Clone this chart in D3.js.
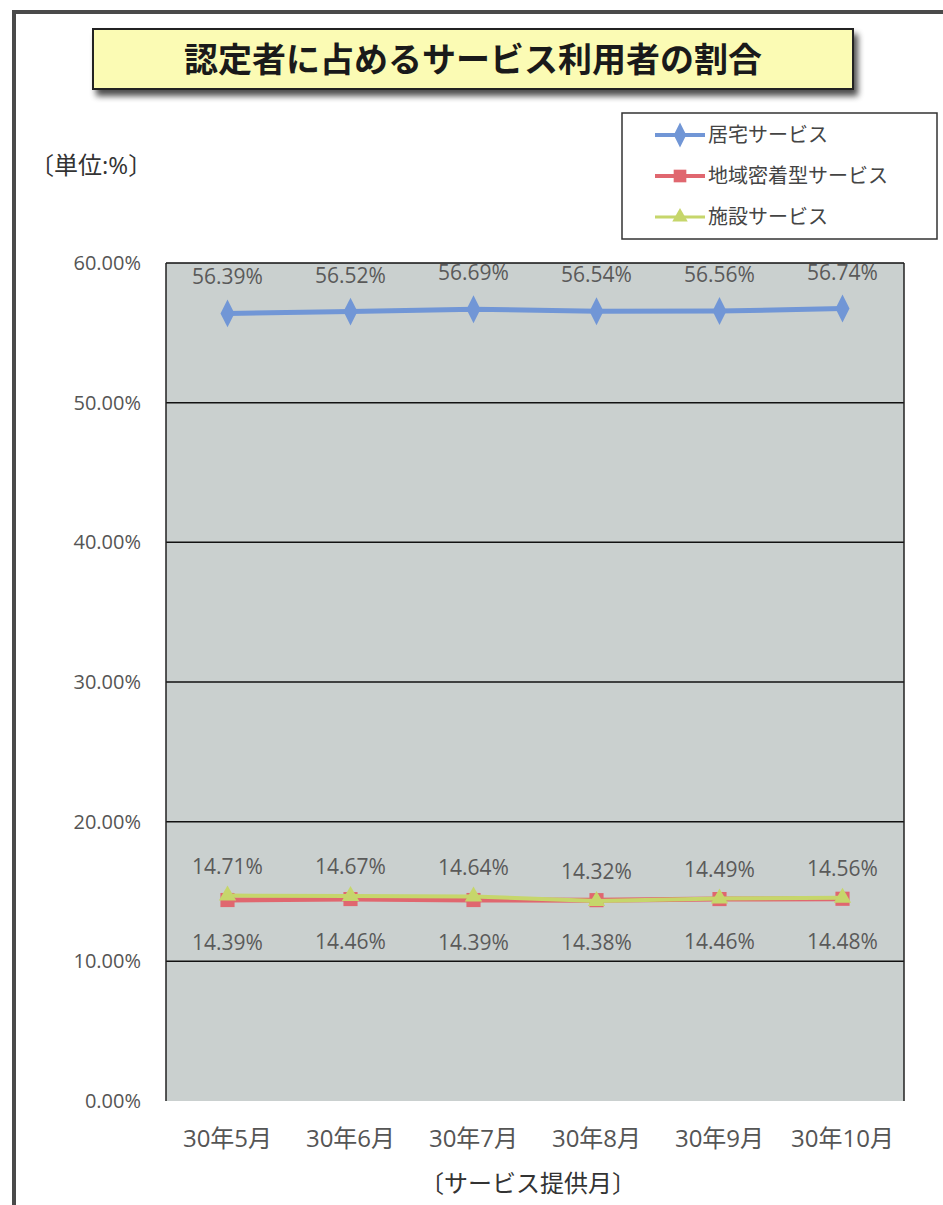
<!DOCTYPE html>
<html lang="ja">
  <head>
    <meta charset="UTF-8">
    <script src="https://d3js.org/d3.v7.min.js"></script>
    <style>
      body { margin: 0; background: #fff; }
      svg text { font-family: "Open Sans", "Noto Sans CJK JP", sans-serif; }
    </style>
  </head>
  <body>
    <div id="chart"></div>
    <script>
      // data
      const months = ["30年5月", "30年6月", "30年7月", "30年8月", "30年9月", "30年10月"];
      const kyotaku = [56.39, 56.52, 56.69, 56.54, 56.56, 56.74];
      const chiiki = [14.39, 14.46, 14.39, 14.38, 14.46, 14.48];
      const shisetsu = [14.71, 14.67, 14.64, 14.32, 14.49, 14.56];
      const yTicks = [0, 10, 20, 30, 40, 50, 60];
      const seriesNames = ["居宅サービス", "地域密着型サービス", "施設サービス"];

      const W = 943, H = 1205;
      const plot = { left: 166, right: 904, top: 263, bottom: 1101 };

      const svg = d3.select("#chart").append("svg")
        .attr("width", W).attr("height", H);

      const defs = svg.append("defs");
      const sh = defs.append("filter").attr("id", "shadow")
        .attr("x", "-5%").attr("y", "-20%").attr("width", "115%").attr("height", "160%");
      sh.append("feGaussianBlur").attr("in", "SourceAlpha").attr("stdDeviation", 3);
      sh.append("feOffset").attr("dx", 4).attr("dy", 6).attr("result", "b");
      sh.append("feComponentTransfer").append("feFuncA").attr("type", "linear").attr("slope", 0.7);
      const m = sh.append("feMerge");
      m.append("feMergeNode");
      m.append("feMergeNode").attr("in", "SourceGraphic");

      // outer frame (top + left edges visible)
      svg.append("path")
        .attr("d", `M14,${H} L14,12 L${W + 5},12`)
        .attr("fill", "none").attr("stroke", "#4a4a4a").attr("stroke-width", 4);

      // title box
      svg.append("rect")
        .attr("x", 93).attr("y", 29).attr("width", 760).attr("height", 60)
        .attr("fill", "#fbfbb4").attr("stroke", "#222").attr("stroke-width", 2)
        .attr("filter", "url(#shadow)");
      svg.append("text")
        .attr("x", 473).attr("y", 72).attr("text-anchor", "middle")
        .style("font-size", "34px").style("font-weight", "bold").attr("fill", "#1a1a1a")
        .text("認定者に占めるサービス利用者の割合");

      // unit label
      svg.append("text")
        .attr("x", 30).attr("y", 174)
        .style("font-size", "24px").attr("fill", "#333")
        .text("〔単位:%〕");

      const x = d3.scaleBand().domain(months).range([plot.left, plot.right]);
      const y = d3.scaleLinear().domain([0, 60]).range([plot.bottom, plot.top]);

      // plot area
      svg.append("rect")
        .attr("x", plot.left).attr("y", plot.top)
        .attr("width", plot.right - plot.left).attr("height", plot.bottom - plot.top)
        .attr("fill", "#cad0cf");

      // gridlines
      svg.append("g").selectAll("line")
        .data(yTicks.filter(d => d > 0))
        .join("line")
        .attr("x1", plot.left).attr("x2", plot.right)
        .attr("y1", d => y(d)).attr("y2", d => y(d))
        .attr("stroke", "#111").attr("stroke-width", 1.5);
      svg.append("line")
        .attr("x1", plot.left).attr("x2", plot.left).attr("y1", plot.top).attr("y2", plot.bottom)
        .attr("stroke", "#222").attr("stroke-width", 1.5);
      svg.append("line")
        .attr("x1", plot.right).attr("x2", plot.right).attr("y1", plot.top).attr("y2", plot.bottom)
        .attr("stroke", "#222").attr("stroke-width", 1.5);

      // y axis
      const yAxis = svg.append("g")
        .attr("transform", `translate(${plot.left - 22},0)`)
        .call(d3.axisLeft(y).tickValues(yTicks).tickSize(0).tickFormat(d => d.toFixed(2) + "%"));
      yAxis.select(".domain").remove();
      yAxis.selectAll("text")
        .style("font-size", "20px").attr("fill", "#555")
        .style("font-family", "'Open Sans', sans-serif");

      // x axis
      const xAxis = svg.append("g")
        .attr("transform", `translate(0,${plot.bottom + 26})`)
        .call(d3.axisBottom(x).tickSize(0));
      xAxis.select(".domain").remove();
      xAxis.selectAll("text")
        .style("font-size", "24px").attr("fill", "#555");

      svg.append("text")
        .attr("x", 528).attr("y", 1192).attr("text-anchor", "middle")
        .style("font-size", "24px").attr("fill", "#333")
        .text("〔サービス提供月〕");

      const cx = (d, i) => x(months[i]) + x.bandwidth() / 2;
      const line = d3.line().x((d, i) => cx(d, i)).y(d => y(d));

      const series = [
        { name: seriesNames[0], values: kyotaku, color: "#7196d6", width: 5, shape: d3.symbolDiamond, size: 170, labelDy: -29 },
        { name: seriesNames[1], values: chiiki, color: "#e0676f", width: 5, shape: d3.symbolSquare, size: 200, labelDy: 50 },
        { name: seriesNames[2], values: shisetsu, color: "#c6d66b", width: 4, shape: d3.symbolTriangle, size: 130, labelDy: -22 }
      ];

      series.forEach(s => {
        svg.append("path")
          .datum(s.values)
          .attr("d", line)
          .attr("fill", "none").attr("stroke", s.color).attr("stroke-width", s.width);
        svg.append("g").selectAll("path")
          .data(s.values)
          .join("path")
          .attr("transform", (d, i) => `translate(${cx(d, i)},${y(d)})` + (s.shape === d3.symbolDiamond ? " scale(1,1.15)" : ""))
          .attr("d", d3.symbol().type(s.shape).size(s.size))
          .attr("fill", s.color);
      });

      // data labels
      series.forEach(s => {
        svg.append("g").selectAll("text")
          .data(s.values)
          .join("text")
          .attr("x", (d, i) => cx(d, i))
          .attr("y", d => y(d) + s.labelDy)
          .attr("text-anchor", "middle")
          .style("font-size", "21px").attr("fill", "#5a5a5a")
          .text(d => d.toFixed(2) + "%");
      });

      // legend
      svg.append("rect")
        .attr("x", 622).attr("y", 113).attr("width", 315).attr("height", 126)
        .attr("fill", "#fff").attr("stroke", "#333").attr("stroke-width", 1.5);
      const lg = svg.append("g").selectAll("g")
        .data(series)
        .join("g")
        .attr("transform", (d, i) => `translate(655,${135 + i * 41})`);
      lg.append("line")
        .attr("x1", 0).attr("x2", 50)
        .attr("stroke", d => d.color).attr("stroke-width", d => d.width - 1);
      lg.append("path")
        .attr("transform", d => "translate(25,0)" + (d.shape === d3.symbolDiamond ? " scale(1,1.15)" : ""))
        .attr("d", d => d3.symbol().type(d.shape).size(d.size * 0.8)())
        .attr("fill", d => d.color);
      lg.append("text")
        .attr("x", 53).attr("y", 7)
        .style("font-size", "20px").attr("fill", "#444")
        .text(d => d.name);
    </script>
  </body>
</html>
